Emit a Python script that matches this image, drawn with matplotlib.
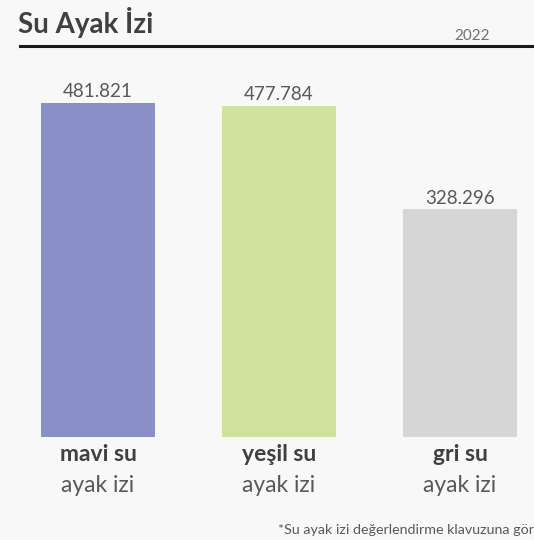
import matplotlib.pyplot as plt
from matplotlib.lines import Line2D

# ------------------------
# Data
# ------------------------
categories = ["mavi su", "yeşil su", "gri su"]
sublabels = ["ayak izi", "ayak izi", "ayak izi"]
values = [481821, 477784, 328296]
value_labels = ["481.821", "477.784", "328.296"]
colors = ["#8a8fc7", "#d0e39e", "#d6d6d6"]

plt.rcParams["font.family"] = ["Lato", "DejaVu Sans"]

BG = "#f8f8f8"
W, H = 534, 540

fig = plt.figure(figsize=(W / 100, H / 100), dpi=100, facecolor=BG)

# axes spanning full width; bars centred at pixel 98, 279, 460
step = 181.0
xmin = -98 / step
xmax = (W - 98) / step
ax_bottom = 1 - 437 / H
ax_top = 1 - 60 / H
ax = fig.add_axes([0, ax_bottom, 1, ax_top - ax_bottom])
ax.set_facecolor("none")
ax.set_xlim(xmin, xmax)
ymax = values[0] * (437 - 60) / 334
ax.set_ylim(0, ymax)
ax.axis("off")

xs = list(range(len(values)))
bars = ax.bar(xs, values, width=114 / step, color=colors)

for x, v, lab in zip(xs, values, value_labels):
    ax.annotate(lab, (x, v), xytext=(0, 2), textcoords="offset points",
                ha="center", va="bottom", fontsize=13.5, color="#595959")

for x, cat, sub in zip(xs, categories, sublabels):
    ax.annotate(cat, (x, 0), xytext=(0, -5), textcoords="offset points",
                ha="center", va="top", fontsize=16.5, fontweight="bold",
                color="#404040")
    ax.annotate(sub, (x, 0), xytext=(0, -27), textcoords="offset points",
                ha="center", va="top", fontsize=16.5, color="#595959")

# title block
fig.text(18 / W, 1 - 33 / H, "Su Ayak İzi", fontsize=20, fontweight="bold",
         color="#404040", ha="left", va="baseline")
fig.text(490 / W, 1 - 40 / H, "2022", fontsize=11, color="#707070",
         ha="right", va="baseline")
fig.add_artist(Line2D([20 / W, 1], [1 - 46 / H, 1 - 46 / H],
                      transform=fig.transFigure, color="#1a1a1a", lw=2.2))

# footnote runs off the right edge, as in the reference
fig.text(278 / W, 1 - 534 / H,
         "*Su ayak izi değerlendirme klavuzuna göre",
         fontsize=10.3, color="#595959", ha="left", va="baseline")

fig.savefig("out.png", dpi=100, facecolor=BG)
